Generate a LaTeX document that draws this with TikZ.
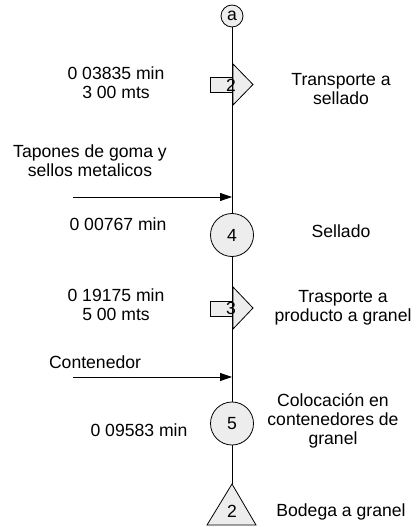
\documentclass[tikz,border=0pt]{standalone}
\usepackage{fontspec}
\setmainfont{Liberation Sans}
\usetikzlibrary{arrows.meta}

\begin{document}
\begin{tikzpicture}[x=0.75pt, y=-0.75pt, line width=0.6pt,
	lbl/.style={align=center, font=\fontsize{13.2}{14}\selectfont, inner sep=0},
	op/.style={circle, draw, fill=gray!14, minimum size=32.25pt, inner sep=0, font=\fontsize{13.2}{14}\selectfont},
	sym/.style={draw, fill=gray!14},
	feed/.style={-{Triangle[length=9pt, width=6pt]}}]
	\useasboundingbox (0,0) rectangle (417,527);

	% symbols
	\node at (232,16) [circle, draw, fill=gray!14, minimum size=16.5pt, inner sep=0, font=\fontsize{13.2}{14}\selectfont] (conA) {a};
	\node at (232,235) [op] (op4) {4};
	\node at (232,423.5) [op] (op5) {5};

	\draw [sym] (210,77) rectangle (233,92);
	\draw [sym] (233,64) -- (253,84.5) -- (233,105) -- cycle;
	\node at (231,85) [lbl] (tr2) {2};

	\draw [sym] (210,301) rectangle (233,316);
	\draw [sym] (233,287) -- (253,308) -- (233,329) -- cycle;
	\node at (231,308.5) [lbl] (tr3) {3};

	\coordinate (st) at (232,484);
	\draw [sym] (st) -- (256,525) -- (207,525) -- cycle;
	\node at (232,511) [lbl] (bod) {2};

	% main line
	\draw (conA) -- (op4);
	\draw (op4) -- (op5);
	\draw (op5) -- (st);

	% materials in
	\coordinate (in1) at (73,197);
	\coordinate (in2) at (73,377);
	\draw [feed] (in1) -- (in1 -| op4);
	\draw [feed] (in2) -- (in2 -| op5);

	% texts
	\node at (116,83) [lbl] (tm1) {0 03835 min\\3 00 mts};
	\node at (341,89) [lbl] (ds1) {Transporte a\\sellado};
	\node at (90,161) [lbl] (mt1) {Tapones de goma y\\sellos metalicos};
	\node at (118,224) [lbl] (tm2) {0 00767 min};
	\node at (341,231) [lbl] (ds2) {Sellado};
	\node at (116,305) [lbl] (tm3) {0 19175 min\\5 00 mts};
	\node at (343,308) [lbl] (ds3) {Trasporte a\\producto a granel};
	\node at (95,362) [lbl] (mt2) {Contenedor};
	\node at (139,430) [lbl] (tm4) {0 09583 min};
	\node at (333,421) [lbl] (ds4) {Colocación en\\contenedores de\\granel};
	\node at (341,512) [lbl] (ds5) {Bodega a granel};

\end{tikzpicture}
\end{document}
